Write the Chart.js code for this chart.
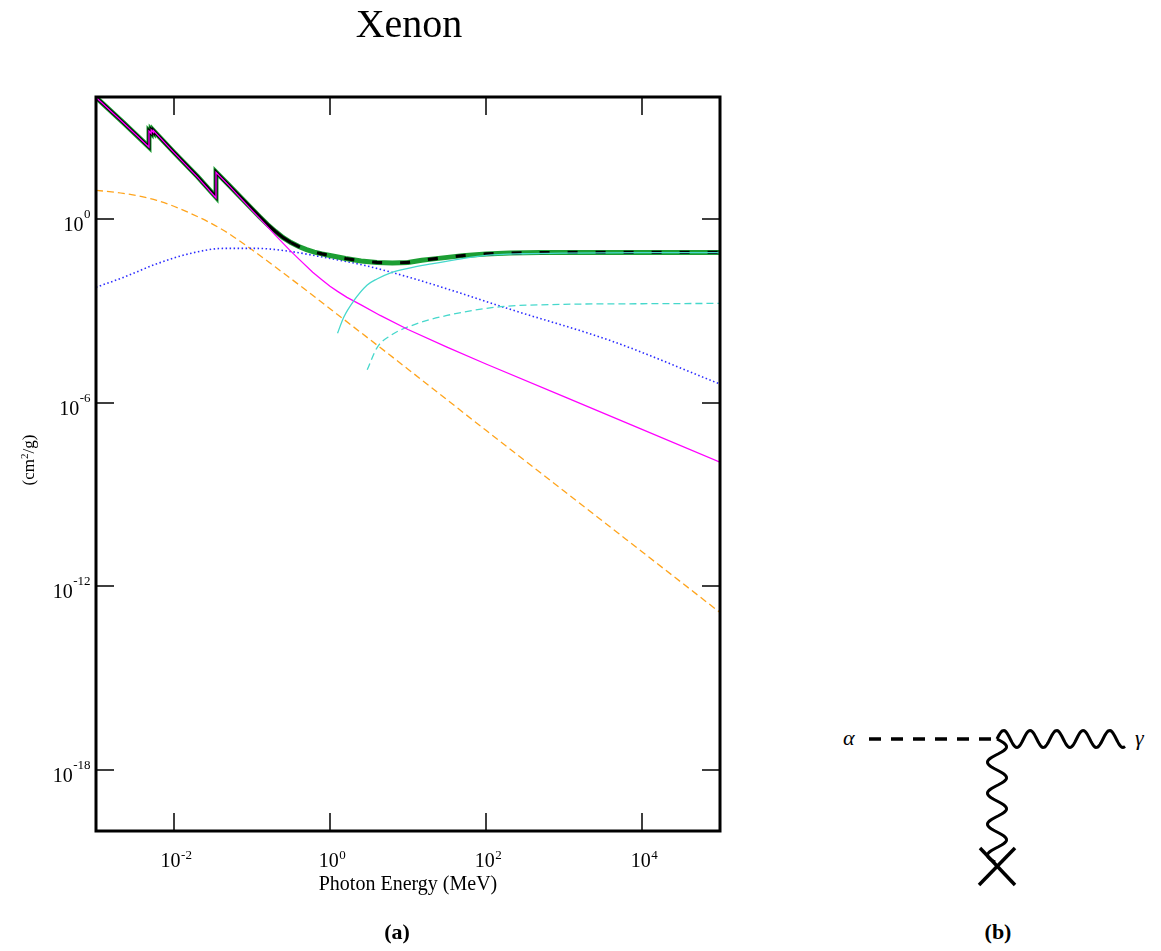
<!DOCTYPE html>
<html>
<head>
<meta charset="utf-8">
<title>Xenon</title>
<script src="https://cdn.jsdelivr.net/npm/chart.js@4.4.1/dist/chart.umd.min.js"></script>
<style>
  body { margin: 0; background: #fff; }
  #page { position: relative; width: 1161px; height: 951px; overflow: hidden;
          font-family: "Liberation Serif", "Times New Roman", serif; color: #000; }
  #chart { position: absolute; left: 0; top: 0; }
  .lbl { position: absolute; white-space: nowrap; line-height: 1; }
  #title { font-size: 40px; left: 409px; top: 3.5px; transform: translateX(-50%); }
  #xTitle { font-size: 20px; left: 408px; top: 873px; transform: translateX(-50%); }
  #yTitle { font-size: 17px; left: 28px; top: 460px; transform: translate(-50%, -50%) rotate(-90deg); }
  #yTitle sup { font-size: 11px; vertical-align: 6px; line-height: 0; }
  .panel { font-size: 22px; font-weight: bold; top: 920.5px; transform: translateX(-50%); }
  .greek { font-size: 22px; font-style: italic; top: 726.5px; }
  #diagram { position: absolute; left: 0; top: 0; }
</style>
</head>
<body>
<div id="page">
  <canvas id="chart" width="760" height="951" style="width:760px;height:951px"></canvas>
  <div class="lbl" id="title">Xenon</div>
  <div class="lbl" id="xTitle">Photon Energy (MeV)</div>
  <div class="lbl" id="yTitle">(cm<sup>2</sup>/g)</div>
  <div class="lbl panel" style="left:397px">(a)</div>
  <div class="lbl panel" style="left:998px">(b)</div>
  <div class="lbl greek" style="left:843px">α</div>
  <div class="lbl greek" style="left:1135px">γ</div>
  <svg id="diagram" width="1161" height="951">
    <line x1="869" y1="739" x2="995" y2="739" stroke="#000" stroke-width="3.5" stroke-dasharray="12 10"/>
    <path id="waveH" fill="none" stroke="#000" stroke-width="3"/>
    <path id="waveV" fill="none" stroke="#000" stroke-width="3"/>
    <line x1="980" y1="848" x2="1015" y2="885" stroke="#000" stroke-width="3.5"/>
    <line x1="1015" y1="848" x2="979" y2="885" stroke="#000" stroke-width="3.5"/>
  </svg>
</div>
<script>
// photon energy (MeV) and mass attenuation (cm2/g) for xenon
const totalE  = [0.001, 0.00224, 0.00478, 0.00478, 0.0051, 0.0051, 0.00545, 0.00545, 0.01, 0.02,
                 0.03456, 0.03456, 0.05, 0.1, 0.126, 0.158, 0.2, 0.251, 0.316, 0.398, 0.5, 0.63, 0.79,
                 1, 1.58, 2.5, 4, 6.3, 10, 15, 20, 30, 50, 100, 200, 500, 1000, 10000, 100000];
const totalMu = [9800, 1450, 230, 770, 650, 840, 700, 800, 155, 25,
                 5.3, 35, 13.5, 2.19, 1.20, 0.676, 0.398, 0.251, 0.174, 0.129, 0.102, 0.085, 0.074,
                 0.066, 0.0525, 0.0437, 0.0389, 0.0372, 0.0389, 0.046, 0.050, 0.056, 0.065, 0.074, 0.079, 0.082, 0.083, 0.083, 0.083];

// photoelectric absorption
const photoE  = [0.001, 0.00224, 0.00478, 0.00478, 0.0051, 0.0051, 0.00545, 0.00545, 0.01, 0.02,
                 0.03456, 0.03456, 0.05, 0.1, 0.15, 0.2, 0.3, 0.4, 0.6, 0.8, 1, 1.25, 1.65, 2.5, 4.4,
                 10, 31.6, 100, 1000, 10000, 100000];
const photoMu = [9790, 1440, 226, 766, 646, 836, 696, 796, 152, 24,
                 5.0, 34.5, 13.1, 1.97, 0.66, 0.30, 0.102, 0.050, 0.0186, 0.0102, 0.0065, 4.4e-3, 2.8e-3, 1.6e-3, 7.2e-4,
                 2.5e-4, 6.6e-5, 1.86e-5, 1.6e-6, 1.35e-7, 1.15e-8];

// coherent (Rayleigh) scattering
const cohE  = [0.001, 0.00224, 0.006, 0.016, 0.043, 0.115, 0.23, 0.5, 1, 10, 100, 1000, 10000, 100000];
const cohMu = [8.9, 7.1, 4.2, 1.6, 0.44, 0.078, 0.021, 4.7e-3, 1.2e-3, 1.26e-5, 1.26e-7, 1.3e-9, 1.35e-11, 1.4e-13];

// incoherent (Compton) scattering
const incohE  = [0.001, 0.00224, 0.006, 0.016, 0.043, 0.115, 0.31, 0.81, 2.65, 11.6, 222, 4300, 100000];
const incohMu = [6.0e-3, 0.0126, 0.035, 0.076, 0.112, 0.112, 0.089, 0.058, 0.032, 0.0117, 1.07e-3, 1.0e-4, 4.1e-6];

// pair production, nuclear field
const pairNucE  = [1.25, 1.5, 2, 3, 4, 6, 10, 20, 50, 100, 300, 1000, 10000, 100000];
const pairNucMu = [1.9e-4, 6.3e-4, 2.1e-3, 7.1e-3, 0.0112, 0.0178, 0.025, 0.035, 0.052, 0.066, 0.075, 0.079, 0.081, 0.081];

// pair production, electron field
const pairElE  = [3, 4, 6, 11.6, 31.6, 138, 1000, 10000, 100000];
const pairElMu = [1.2e-5, 6.3e-5, 1.6e-4, 3.5e-4, 7.2e-4, 1.35e-3, 1.66e-3, 1.74e-3, 1.78e-3];

const xTicks = [1e-2, 1e0, 1e2, 1e4];
const yTicks = [1e-18, 1e-12, 1e-6, 1e0];

const FONT = '"Liberation Serif", "Times New Roman", serif';

function pts(xs, ys) {
    return xs.map((x, i) => ({x: x, y: ys[i]}));
}

// "10" with a raised exponent
function drawPow(ctx, v, x, y, align, raise) {
    const exp = String(Math.round(Math.log10(v)));
    ctx.font = '20px ' + FONT;
    const wb = ctx.measureText('10').width;
    ctx.font = '13px ' + FONT;
    const we = ctx.measureText(exp).width;
    let x0 = align === 'right' ? x - wb - we : x - (wb + we) / 2;
    ctx.textAlign = 'left';
    ctx.textBaseline = 'alphabetic';
    ctx.font = '20px ' + FONT;
    ctx.fillText('10', x0, y);
    ctx.font = '13px ' + FONT;
    ctx.fillText(exp, x0 + wb + 0.5, y - raise);
}

// box, inward ticks on all four sides, tick labels
const framePlugin = {
    id: 'frame',
    afterDraw(chart) {
        const {ctx, chartArea: a, scales} = chart;
        const tl = 18;
        ctx.save();
        ctx.strokeStyle = '#000';
        ctx.fillStyle = '#000';
        ctx.lineWidth = 1.5;
        ctx.beginPath();
        xTicks.forEach(v => {
            const px = Math.round(scales.x.getPixelForValue(v));
            ctx.moveTo(px, a.bottom); ctx.lineTo(px, a.bottom - tl);
            ctx.moveTo(px, a.top); ctx.lineTo(px, a.top + tl);
        });
        yTicks.forEach(v => {
            const py = Math.round(scales.y.getPixelForValue(v));
            ctx.moveTo(a.left, py); ctx.lineTo(a.left + tl, py);
            ctx.moveTo(a.right, py); ctx.lineTo(a.right - tl, py);
        });
        ctx.stroke();
        ctx.lineWidth = 3;
        ctx.strokeRect(a.left, a.top, a.right - a.left, a.bottom - a.top);

        xTicks.forEach(v => drawPow(ctx, v, scales.x.getPixelForValue(v) + 2, a.bottom + 36, 'center', 8));
        yTicks.forEach(v => drawPow(ctx, v, a.left - 6, scales.y.getPixelForValue(v) + 12, 'right', 13));
        ctx.restore();
    }
};

const lineBase = {pointRadius: 0, fill: false, tension: 0};

new Chart(document.getElementById('chart'), {
    type: 'line',
    data: {
        datasets: [
            Object.assign({}, lineBase, {label: 'Pair (nuclear)', data: pts(pairNucE, pairNucMu),
                borderColor: '#46d8cc', borderWidth: 1.3, cubicInterpolationMode: 'monotone'}),
            Object.assign({}, lineBase, {label: 'Photoelectric', data: pts(photoE, photoMu),
                borderColor: '#ff00ff', borderWidth: 1.3}),
            Object.assign({}, lineBase, {label: 'Total', data: pts(totalE, totalMu),
                borderColor: '#000', borderWidth: 3.2,
                segment: {borderDash: c => c.p0.parsed.x >= 0.3 ? [10, 18] : undefined}}),
            Object.assign({}, lineBase, {label: 'Total', data: pts(totalE, totalMu),
                borderColor: '#1c9e33', borderWidth: 5}),
            Object.assign({}, lineBase, {label: 'Pair (electron)', data: pts(pairElE, pairElMu),
                borderColor: '#46d8cc', borderWidth: 1.3, borderDash: [7, 4], cubicInterpolationMode: 'monotone'}),
            Object.assign({}, lineBase, {label: 'Incoherent', data: pts(incohE, incohMu),
                borderColor: '#2a2aff', borderWidth: 1.6, borderDash: [1.5, 2.5], cubicInterpolationMode: 'monotone'}),
            Object.assign({}, lineBase, {label: 'Coherent', data: pts(cohE, cohMu),
                borderColor: '#ffa41c', borderWidth: 1.3, borderDash: [7, 4], cubicInterpolationMode: 'monotone'})
        ]
    },
    options: {
        responsive: false,
        devicePixelRatio: 1,
        animation: false,
        layout: {padding: {top: 97, right: 40, left: 0, bottom: 0}},
        plugins: {legend: {display: false}, tooltip: {enabled: false}, title: {display: false}},
        scales: {
            x: {
                type: 'logarithmic', min: 1e-3, max: 1e5,
                grid: {display: false}, border: {display: false}, ticks: {display: false},
                afterBuildTicks: s => { s.ticks = xTicks.map(v => ({value: v})); },
                afterFit: s => { s.height = 120; }
            },
            y: {
                type: 'logarithmic', min: 1e-20, max: 1e4,
                grid: {display: false}, border: {display: false}, ticks: {display: false},
                afterBuildTicks: s => { s.ticks = yTicks.map(v => ({value: v})); },
                afterFit: s => { s.width = 96; }
            }
        }
    },
    plugins: [framePlugin]
});

// wavy photon lines of the diagram
function wavePath(x0, y0, len, amp, period, horizontal) {
    let d = '';
    for (let s = 0; s <= len; s++) {
        const w = amp * Math.sin(2 * Math.PI * s / period);
        const px = horizontal ? x0 + s : x0 + w;
        const py = horizontal ? y0 - w : y0 + s;
        d += (s ? 'L' : 'M') + px.toFixed(1) + ' ' + py.toFixed(1);
    }
    return d;
}
document.getElementById('waveH').setAttribute('d', wavePath(997, 739, 128, 8.5, 26.5, true));
document.getElementById('waveV').setAttribute('d', wavePath(997, 739, 123, 9.5, 31, false));
</script>
</body>
</html>
